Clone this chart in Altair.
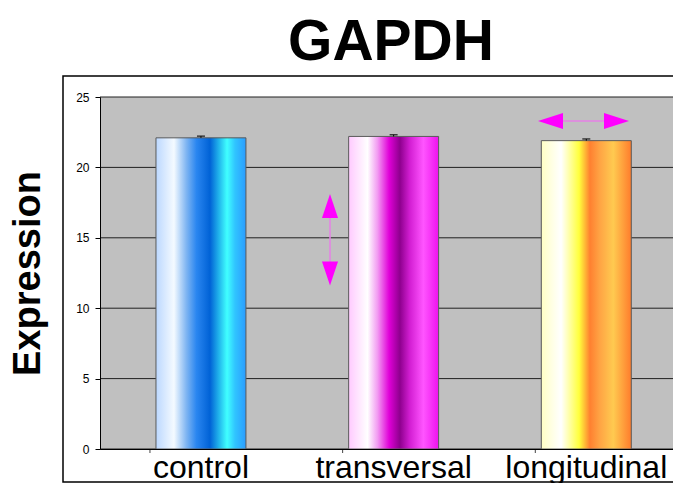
import altair as alt
import pandas as pd

# ---- data ----
categories = ["control", "transversal", "longitudinal"]
values = [22.1, 22.2, 21.9]
errors = [0.12, 0.12, 0.12]
y_ticks = [0, 5, 10, 15, 20, 25]
title_text = ["GAPDH"]

# annotation arrows (x as fraction of plot width, y in data units)
v_arrow_x = [0.4014]
v_arrow_y = [16.4, 13.3]          # line between heads
v_heads_y = [17.26, 12.46]         # head centers (up, down)
h_arrow_y = [23.3]
h_arrow_x = [0.808, 0.8796]       # line between heads
h_heads_x = [0.7862, 0.9014]      # head centers (left, right)

df = pd.DataFrame({"cat": categories, "val": values, "err": errors})
df["top"] = df["val"] + df["err"]

W, H = 573, 352

gradients = {
    "control": [
        ("#bcd8ff", 0.0), ("#f4faff", 0.2), ("#7db4f2", 0.34), ("#2a86f0", 0.45),
        ("#0062d6", 0.6), ("#40ffff", 0.79), ("#30c4ff", 0.88), ("#2b9cff", 1.0)],
    "transversal": [
        ("#ffcaff", 0.0), ("#ffffff", 0.21), ("#f29cf2", 0.32), ("#e000d8", 0.45),
        ("#8e008e", 0.57), ("#d21ed2", 0.68), ("#ff55ff", 0.83), ("#ee12ee", 1.0)],
    "longitudinal": [
        ("#ffffc4", 0.0), ("#ffffff", 0.22), ("#ffff3c", 0.42), ("#ff8030", 0.54),
        ("#ffa444", 0.65), ("#ffca50", 0.8), ("#ff7c2c", 1.0)],
}

x_scale = alt.Scale(domain=categories, paddingInner=0.533, paddingOuter=0.2535, align=0.573)
y_scale = alt.Scale(domain=[0, 25], nice=False, zero=False)
y_axis = alt.Axis(title="Expression", values=y_ticks, grid=False,
                  titleFont="Liberation Sans", titleFontSize=38,
                  titleFontWeight="bold", titleColor="black", titlePadding=28,
                  labelFont="Liberation Sans", labelFontSize=12,
                  labelColor="black", labelPadding=6, tickSize=5,
                  tickColor="black", domainColor="black", zindex=1)
x_axis = alt.Axis(title=None, labelAngle=0, labelFont="Liberation Sans",
                  labelFontSize=32, labelColor="black", labelPadding=3,
                  ticks=False, domainColor="black", domainWidth=1, zindex=1)

base = alt.Chart(df)

# gray plot background and gridlines
bg = alt.Chart(pd.DataFrame({"a": [0]})).mark_rect(color="#c0c0c0").encode(
    x=alt.value(0), x2=alt.value(W), y=alt.value(0), y2=alt.value(H))
grid = alt.Chart(pd.DataFrame({"g": y_ticks})).mark_rule(color="#202020", strokeWidth=1).encode(
    y=alt.Y("g:Q", scale=y_scale, axis=y_axis), x=alt.value(0), x2=alt.value(W))

bar_layers = []
for c in categories:
    stops = [alt.GradientStop(color=col, offset=o) for col, o in gradients[c]]
    bar_layers.append(
        base.transform_filter(alt.datum.cat == c).mark_bar(
            color=alt.Gradient(gradient="linear", stops=stops, x1=0, x2=1, y1=0, y2=0),
            stroke="#5a5a5a", strokeWidth=1
        ).encode(
            x=alt.X("cat:N", scale=x_scale, sort=categories, axis=x_axis),
            y=alt.Y("val:Q", scale=y_scale, axis=y_axis),
        )
    )

err_rule = base.mark_rule(color="black", strokeWidth=1).encode(
    x=alt.X("cat:N", scale=x_scale, sort=categories), y=alt.Y("val:Q", scale=y_scale), y2="top:Q")
err_cap = base.mark_tick(color="black", thickness=1.5, size=8, orient="horizontal").encode(
    x=alt.X("cat:N", scale=x_scale, sort=categories), y=alt.Y("top:Q", scale=y_scale))

# x-axis tick marks at category boundaries
xticks = base.mark_rule(color="#444444", strokeWidth=1, xOffset=-51).encode(
    x=alt.X("cat:N", scale=x_scale, sort=categories),
    y=alt.value(H), y2=alt.value(H + 4))

# frame around chart
frame = alt.Chart(pd.DataFrame({"a": [0]})).mark_rect(
    fill=None, stroke="black", strokeWidth=1.5, clip=False).encode(
    x=alt.value(-37), x2=alt.value(W + 20), y=alt.value(-21), y2=alt.value(H + 33))

# chart title as text
title = alt.Chart(pd.DataFrame({"t": title_text})).mark_text(
    font="Liberation Sans", fontSize=57, fontWeight="bold", color="black",
    align="center", baseline="alphabetic", clip=False).encode(
    text="t:N", x=alt.value(291), y=alt.value(-37))

# annotations
ax = alt.Scale(domain=[0, 1], nice=False, zero=False)
ann_color = "#ff00ff"
v_line = alt.Chart(pd.DataFrame({"x": v_arrow_x * 2, "y": v_arrow_y})).mark_line(
    color="#e680e6", strokeWidth=1.5).encode(
    x=alt.X("x:Q", scale=ax, axis=None), y=alt.Y("y:Q", scale=y_scale))
v_up = alt.Chart(pd.DataFrame({"x": v_arrow_x, "y": v_heads_y[:1]})).mark_point(
    shape="M0,-1L0.67,1L-0.67,1Z", size=576, filled=True, opacity=1, color=ann_color).encode(
    x=alt.X("x:Q", scale=ax, axis=None), y=alt.Y("y:Q", scale=y_scale))
v_down = alt.Chart(pd.DataFrame({"x": v_arrow_x, "y": v_heads_y[1:]})).mark_point(
    shape="M0,1L0.67,-1L-0.67,-1Z", size=576, filled=True, opacity=1, color=ann_color).encode(
    x=alt.X("x:Q", scale=ax, axis=None), y=alt.Y("y:Q", scale=y_scale))
h_line = alt.Chart(pd.DataFrame({"x": h_arrow_x, "y": h_arrow_y * 2})).mark_line(
    color="#e680e6", strokeWidth=1.5).encode(
    x=alt.X("x:Q", scale=ax, axis=None), y=alt.Y("y:Q", scale=y_scale))
h_left = alt.Chart(pd.DataFrame({"x": h_heads_x[:1], "y": h_arrow_y})).mark_point(
    shape="M-1,0L1,-0.64L1,0.64Z", size=625, filled=True, opacity=1, color=ann_color).encode(
    x=alt.X("x:Q", scale=ax, axis=None), y=alt.Y("y:Q", scale=y_scale))
h_right = alt.Chart(pd.DataFrame({"x": h_heads_x[1:], "y": h_arrow_y})).mark_point(
    shape="M1,0L-1,-0.64L-1,0.64Z", size=625, filled=True, opacity=1, color=ann_color).encode(
    x=alt.X("x:Q", scale=ax, axis=None), y=alt.Y("y:Q", scale=y_scale))

bars = alt.layer(*bar_layers, err_rule, err_cap, xticks)
ann = alt.layer(v_line, v_up, v_down, h_line, h_left, h_right)

chart = alt.layer(bg, grid, bars, ann, frame, title).resolve_scale(x="independent").properties(
    width=W, height=H,
    autosize=alt.AutoSizeParams(type="none"),
    padding={"left": 92, "top": 89, "right": 0, "bottom": 34},
).configure(background="white", view=alt.ViewConfig(fill="#c0c0c0", stroke=None))

chart.save("out.html", embed_options={"renderer": "svg", "actions": False})
